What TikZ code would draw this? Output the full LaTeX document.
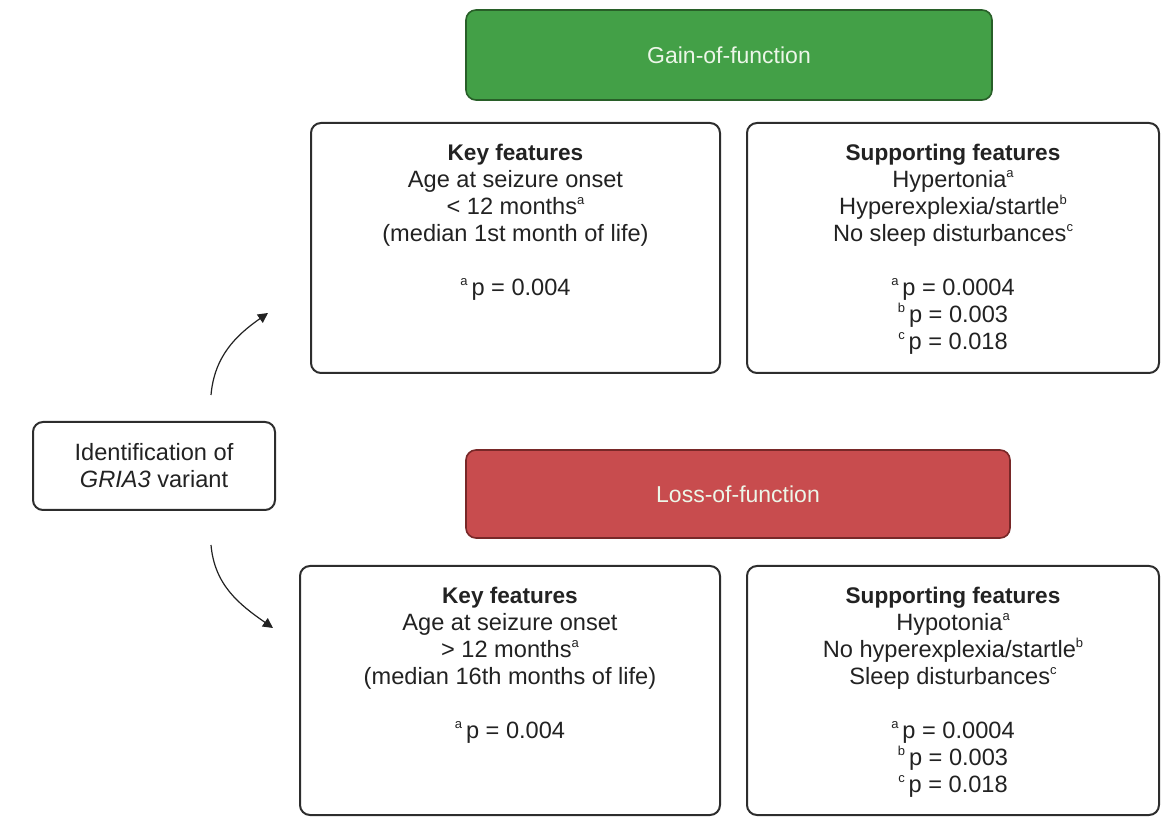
\documentclass[tikz,border=0pt]{standalone}
\usepackage{fontspec}
\setmainfont{Liberation Sans}
\usetikzlibrary{positioning,arrows.meta}
\definecolor{textgray}{RGB}{34,34,34}
\definecolor{boxline}{RGB}{45,45,45}
\definecolor{gainfill}{RGB}{67,160,71}
\definecolor{gainline}{RGB}{40,95,40}
\definecolor{lossfill}{RGB}{200,76,78}
\definecolor{lossline}{RGB}{120,40,40}
\definecolor{labelwhite}{RGB}{236,246,232}
\newcommand{\sups}[1]{\raisebox{0.85ex}{\fontsize{6.5}{6.5}\selectfont #1}}
\newcommand{\head}[1]{{\fontsize{11.3}{13.5}\selectfont\textbf{#1}}}

\begin{document}
\begin{tikzpicture}[x=0.5pt,y=-0.5pt,
    every node/.style={font=\fontsize{11.8}{13.5}\selectfont, text=textgray},
    featbox/.style={draw=boxline, line width=1pt, rounded corners=5pt},
    feattext/.style={anchor=north, align=center, inner sep=0pt},
    classbox/.style={line width=0.8pt, rounded corners=5pt, text=labelwhite, font=\fontsize{11.5}{13.5}\selectfont},
    conn/.style={draw=textgray, line width=0.6pt, -{Triangle[length=5pt,width=5pt]}}]

  \useasboundingbox (0,0) rectangle (1172,817);

  % variant classes
  \node[classbox, fill=gainfill, draw=gainline, minimum width=263pt, minimum height=45pt] (gain) at (729,55) {Gain-of-function};
  \node[classbox, fill=lossfill, draw=lossline, minimum width=272pt, minimum height=44pt] (loss) at (738,494) {Loss-of-function};

  % starting point
  \node[featbox, align=center, minimum width=121pt, minimum height=44pt] (ident) at (154,466) {Identification of\\\textit{GRIA3} variant};

  % gain-of-function features
  \node[featbox, minimum width=204.5pt, minimum height=125pt] (kgain) at (515.5,248) {};
  \node[featbox, minimum width=206pt, minimum height=125pt] (sgain) at (953,248) {};
  \node[feattext] (kgaintxt) at (515.5,144) {\head{Key features}\\Age at seizure onset\\< 12 months\sups{a}\\(median 1st month of life)\\[13.5pt]\sups{a}\,p = 0.004};
  \node[feattext] (sgaintxt) at (953,144) {\head{Supporting features}\\Hypertonia\sups{a}\\Hyperexplexia/startle\sups{b}\\No sleep disturbances\sups{c}\\[13.5pt]\sups{a}\,p = 0.0004\\\sups{b}\,p = 0.003\\\sups{c}\,p = 0.018};

  % loss-of-function features
  \node[featbox, minimum width=210pt, minimum height=124.5pt] (kloss) at (510,690.5) {};
  \node[featbox, minimum width=206pt, minimum height=124.5pt] (sloss) at (953,690.5) {};
  \node[feattext] (klosstxt) at (510,587) {\head{Key features}\\Age at seizure onset\\> 12 months\sups{a}\\(median 16th months of life)\\[13.5pt]\sups{a}\,p = 0.004};
  \node[feattext] (slosstxt) at (953,587) {\head{Supporting features}\\Hypotonia\sups{a}\\No hyperexplexia/startle\sups{b}\\Sleep disturbances\sups{c}\\[13.5pt]\sups{a}\,p = 0.0004\\\sups{b}\,p = 0.003\\\sups{c}\,p = 0.018};

  % arrows
  \coordinate (up0) at (211,395);
  \coordinate (up1) at (268,313);
  \coordinate (dn0) at (211,545);
  \coordinate (dn1) at (273,628);
  \draw[conn] (up0) to[out=85,in=215] (up1);
  \draw[conn] (dn0) to[out=-85,in=145] (dn1);
\end{tikzpicture}
\end{document}
